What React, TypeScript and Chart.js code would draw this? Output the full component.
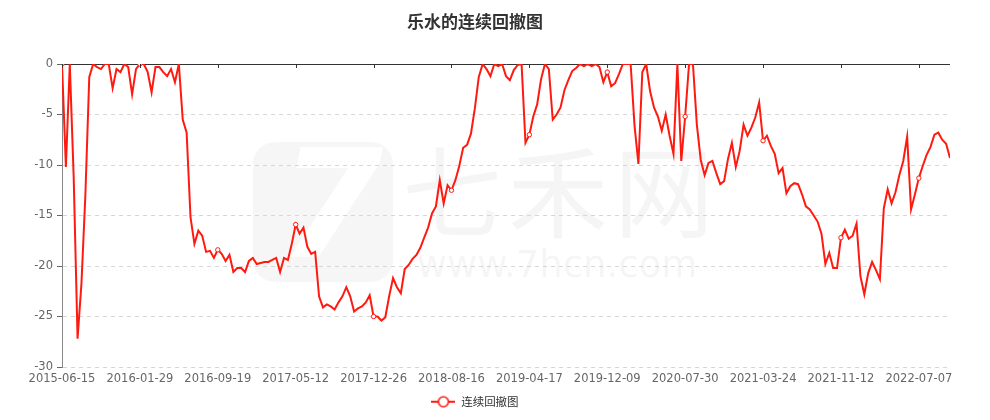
import { useEffect, useRef } from 'react';
import { Chart, registerables } from 'chart.js';

Chart.register(...registerables);

const chartTitle = '乐水的连续回撤图';
const seriesName = '连续回撤图';

const tickLabels = [
  '2015-06-15', '2016-01-29', '2016-09-19', '2017-05-12', '2017-12-26', '2018-08-16',
  '2019-04-17', '2019-12-09', '2020-07-30', '2021-03-24', '2021-11-12', '2022-07-07',
];

// number of data points between two consecutive tick labels
const pointsPerLabel = 20;

// drawdown (%), one row per tick interval
const drawdown = [
  0, -10.2, 0, -11.2, -27.2, -21.7, -13.0, -1.3, 0, -0.3, -0.5, 0, 0, -2.4, -0.5, -0.8, 0, -0.3, -3.0, -0.5,
  0, 0, -0.8, -2.8, -0.3, -0.3, -0.8, -1.2, -0.5, -1.8, 0, -5.5, -6.8, -15.2, -17.8, -16.5, -17.0, -18.6, -18.5, -19.2,
  -18.4, -18.8, -19.5, -18.9, -20.6, -20.2, -20.2, -20.6, -19.5, -19.2, -19.8, -19.7, -19.6, -19.6, -19.4, -19.2, -20.6, -19.2, -19.4, -17.8,
  -15.9, -16.8, -16.2, -18.1, -18.8, -18.6, -23.0, -24.1, -23.8, -24.0, -24.3, -23.6, -23.0, -22.1, -23.0, -24.5, -24.2, -24.0, -23.6, -22.9,
  -25.0, -25.0, -25.4, -25.1, -23.0, -21.2, -22.1, -22.7, -20.3, -19.9, -19.3, -18.9, -18.2, -17.2, -16.2, -14.8, -14.1, -11.5, -13.8, -12.0,
  -12.5, -11.5, -10.1, -8.3, -8.0, -6.9, -4.4, -1.3, 0, -0.5, -1.2, 0, -0.2, 0, -1.2, -1.6, -0.6, -0.1, 0, -7.8,
  -7.0, -5.2, -4.0, -1.5, 0, -0.5, -5.5, -5.0, -4.3, -2.6, -1.6, -0.7, -0.4, 0, -0.2, 0, -0.2, 0, -0.3, -1.8,
  -0.8, -2.2, -1.9, -1.0, 0, 0, 0, -6.1, -9.9, -0.8, 0, -2.7, -4.3, -5.2, -6.6, -5.0, -7.1, -8.9, 0, -9.6,
  -5.2, 0, 0, -6.0, -9.5, -11.0, -9.8, -9.6, -10.8, -11.9, -11.6, -9.4, -7.8, -10.2, -8.6, -6.0, -7.1, -6.3, -5.3, -3.8,
  -7.6, -7.1, -8.1, -8.9, -10.8, -10.3, -12.8, -12.1, -11.8, -11.9, -12.9, -14.1, -14.4, -15.0, -15.6, -16.8, -19.8, -18.7, -20.2, -20.2,
  -17.2, -16.4, -17.3, -17.0, -15.8, -21.0, -22.8, -20.7, -19.6, -20.4, -21.3, -14.3, -12.4, -13.8, -12.7, -11.0, -9.6, -7.2, -14.4, -12.9,
  -11.3, -10.1, -9.0, -8.2, -7.0, -6.8, -7.5, -7.9, -9.3,
];

const yMin = -30;
const yMax = 0;
const yStep = 5;

const LINE_COLOR = '#ff1a10';
const NUM_FONT = '"DejaVu Sans", "Noto Sans CJK SC", sans-serif';
const CJK_FONT = '"Noto Sans CJK SC", "DejaVu Sans", sans-serif';

const watermarkPlugin = {
  id: 'watermark',
  beforeDraw(chart: any) {
    const { ctx } = chart;
    ctx.save();
    // logo block
    ctx.fillStyle = 'rgba(0,0,0,0.035)';
    ctx.beginPath();
    const lx = 253, ly = 142, ls = 140, r = 22;
    ctx.moveTo(lx + r, ly);
    ctx.arcTo(lx + ls, ly, lx + ls, ly + ls, r);
    ctx.arcTo(lx + ls, ly + ls, lx, ly + ls, r);
    ctx.arcTo(lx, ly + ls, lx, ly, r);
    ctx.arcTo(lx, ly, lx + ls, ly, r);
    ctx.closePath();
    ctx.fill();
    ctx.fillStyle = '#ffffff';
    ctx.font = 'bold italic 150px "DejaVu Sans", sans-serif';
    ctx.textAlign = 'center';
    ctx.textBaseline = 'middle';
    ctx.fillText('7', lx + ls / 2 + 8, ly + ls / 2 + 6);
    // site name
    ctx.fillStyle = 'rgba(0,0,0,0.04)';
    ctx.font = '100px "Noto Sans CJK SC", sans-serif';
    const chars = ['七', '禾', '网'];
    chars.forEach((ch, i) => ctx.fillText(ch, 452 + i * 106, 192));
    ctx.font = '37px "DejaVu Sans", sans-serif';
    ctx.fillText('www.7hcn.com', 557, 267);
    ctx.restore();
  },
};

const topTicksPlugin = {
  id: 'topTicks',
  afterDatasetsDraw(chart: any) {
    const { ctx } = chart;
    const xs = chart.scales.x;
    const ys = chart.scales.y;
    const y0 = ys.getPixelForValue(0);
    ctx.save();
    ctx.strokeStyle = '#333';
    ctx.lineWidth = 1;
    xs.ticks.forEach((t: any) => {
      const px = Math.round(xs.getPixelForValue(t.value)) + 0.5;
      ctx.beginPath();
      ctx.moveTo(px, y0);
      ctx.lineTo(px, y0 + 4);
      ctx.stroke();
    });
    ctx.restore();
  },
};

function makeLegendIcon(): HTMLCanvasElement {
  const c = document.createElement('canvas');
  c.width = 24;
  c.height = 14;
  const g = c.getContext('2d')!;
  g.strokeStyle = LINE_COLOR;
  g.lineWidth = 2;
  g.beginPath();
  g.moveTo(0, 7);
  g.lineTo(24, 7);
  g.stroke();
  g.beginPath();
  g.arc(12, 7, 5, 0, Math.PI * 2);
  g.fillStyle = '#ffffff';
  g.fill();
  g.lineWidth = 1.6;
  g.stroke();
  return c;
}

export default function App() {
  const canvasRef = useRef<HTMLCanvasElement | null>(null);

  useEffect(() => {
    if (!canvasRef.current) return;
    const legendIcon = makeLegendIcon();
    const chart = new Chart(canvasRef.current, {
      type: 'line',
      data: {
        datasets: [
          {
            label: seriesName,
            data: drawdown.map((v, i) => ({ x: i, y: v })),
            borderColor: LINE_COLOR,
            backgroundColor: LINE_COLOR,
            borderWidth: 2,
            tension: 0,
            fill: false,
            pointRadius: (c: any) => (c.dataIndex % pointsPerLabel === 0 ? 2.2 : 0),
            pointHoverRadius: 0,
            pointBackgroundColor: '#ffffff',
            pointBorderColor: LINE_COLOR,
            pointBorderWidth: 1,
          },
        ],
      },
      options: {
        responsive: false,
        animation: false,
        events: [],
        layout: { padding: { left: 0, right: 40, top: 0, bottom: 2.5 } },
        scales: {
          x: {
            type: 'linear',
            min: 0,
            max: drawdown.length - 1,
            afterBuildTicks: (s: any) => {
              s.ticks = tickLabels.map((_, i) => ({ value: i * pointsPerLabel }));
            },
            afterFit: (s: any) => {
              s.height = 22;
            },
            ticks: {
              autoSkip: false,
              maxRotation: 0,
              minRotation: 0,
              color: '#666',
              padding: 5,
              font: { size: 11.5, family: NUM_FONT },
              callback: (v: any) => tickLabels[Math.round(Number(v) / pointsPerLabel)] ?? '',
            },
            grid: { display: false, drawTicks: false },
            border: { display: false },
          },
          y: {
            min: yMin,
            max: yMax,
            afterFit: (s: any) => {
              s.width = 62;
            },
            ticks: {
              stepSize: yStep,
              color: '#666',
              padding: 4,
              font: { size: 11.5, family: NUM_FONT },
            },
            grid: {
              color: (c: any) => (c.tick && c.tick.value === 0 ? '#333' : '#d6d6d6'),
              lineWidth: 1,
              drawTicks: true,
              tickLength: 5,
              tickColor: '#666',
              tickBorderDash: [],
            },
            border: {
              display: true,
              color: '#888',
              width: 1,
              dash: (c: any) => (c.tick && c.tick.value === 0 ? [] : [4, 4]),
            },
          },
        },
        plugins: {
          title: {
            display: true,
            text: chartTitle,
            color: '#333',
            font: { size: 17, weight: 'bold', family: CJK_FONT },
            padding: { top: 11.8, bottom: 31.8 },
          },
          legend: {
            display: true,
            position: 'bottom',
            labels: {
              usePointStyle: true,
              pointStyle: legendIcon as any,
              pointStyleWidth: 24,
              boxHeight: 11.5,
              color: '#333',
              padding: 7,
              font: { size: 11.5, family: CJK_FONT },
            },
          },
          tooltip: { enabled: false },
        },
      } as any,
      plugins: [watermarkPlugin, topTicksPlugin],
    });
    return () => chart.destroy();
  }, []);

  return (
    <div style={{ position: 'absolute', left: 0, top: 0, width: 990, height: 420, background: '#fff' }}>
      <canvas ref={canvasRef} width={990} height={420} style={{ display: 'block' }} />
    </div>
  );
}
